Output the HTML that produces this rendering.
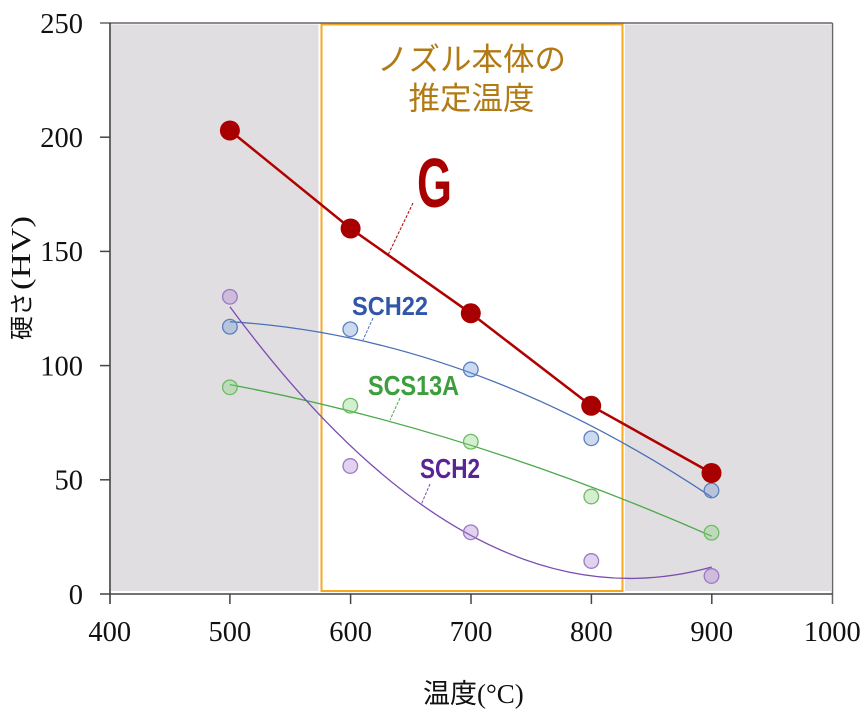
<!DOCTYPE html>
<html><head><meta charset="utf-8"><style>
html,body{margin:0;padding:0;background:#fff;}
svg{display:block;}
</style></head><body>
<svg width="866" height="716" viewBox="0 0 866 716" xmlns="http://www.w3.org/2000/svg">
<!-- gray plot background -->
<rect x="111" y="24.5" width="720" height="566.5" fill="#e0dee0"/>
<!-- white estimated temperature region -->
<rect x="318.5" y="23" width="306.5" height="569" fill="#ffffff"/>
<rect x="321.5" y="24.5" width="301" height="566.5" fill="none" stroke="#f5a820" stroke-width="2"/>
<!-- frame -->
<g stroke="#444" stroke-width="1.5" fill="none">
<line x1="100" y1="23" x2="832.5" y2="23" stroke="#666"/>
<line x1="832.5" y1="23" x2="832.5" y2="604" stroke="#666"/>
<line x1="110" y1="23" x2="110" y2="604" stroke="#333"/>
<line x1="100" y1="594" x2="832.5" y2="594"/>
<!-- y ticks -->
<line x1="100" y1="137.2" x2="110" y2="137.2"/>
<line x1="100" y1="251.4" x2="110" y2="251.4"/>
<line x1="100" y1="365.6" x2="110" y2="365.6"/>
<line x1="100" y1="479.8" x2="110" y2="479.8"/>
<!-- x ticks -->
<line x1="229.9" y1="594" x2="229.9" y2="604"/>
<line x1="350.6" y1="594" x2="350.6" y2="604"/>
<line x1="471" y1="594" x2="471" y2="604"/>
<line x1="591.4" y1="594" x2="591.4" y2="604"/>
<line x1="711.8" y1="594" x2="711.8" y2="604"/>
</g>
<!-- tick labels -->
<g font-family="'Liberation Serif', serif" font-size="28.5" fill="#111" text-anchor="end">
<text x="83" y="33">250</text>
<text x="83" y="147">200</text>
<text x="83" y="261">150</text>
<text x="83" y="375.5">100</text>
<text x="83" y="489.5">50</text>
<text x="83" y="604">0</text>
</g>
<g font-family="'Liberation Serif', serif" font-size="28.5" fill="#111" text-anchor="middle">
<text x="109.8" y="641">400</text>
<text x="229.9" y="641">500</text>
<text x="350.6" y="641">600</text>
<text x="471" y="641">700</text>
<text x="591.4" y="641">800</text>
<text x="711.8" y="641">900</text>
<text x="832.2" y="641">1000</text>
</g>
<!-- axis titles -->
<text x="423" y="703" font-family="'Liberation Serif', 'Noto Sans CJK JP', serif" font-size="27" fill="#111"><tspan font-family="'Noto Sans CJK JP', sans-serif" font-size="27">温度</tspan>(°C)</text>
<g transform="translate(30,340) rotate(-90)">
<text x="0" y="0" font-family="'Noto Sans CJK JP', sans-serif" font-size="24" fill="#111">硬さ</text>
<text x="50" y="0" font-family="'Liberation Serif', serif" font-size="27" fill="#111" textLength="74" lengthAdjust="spacingAndGlyphs">(HV)</text>
</g>
<!-- title -->
<g font-family="'Noto Sans CJK JP', sans-serif" font-size="31.5" fill="#b27a14" text-anchor="middle">
<text x="471.5" y="70">ノズル本体の</text>
<text x="471.5" y="109">推定温度</text>
</g>
<!-- fitted curves -->
<path d="M229.9,321.7 Q471,336.4 711.8,497.2" fill="none" stroke="#4a70b8" stroke-width="1.3"/>
<path d="M229.9,384.6 Q471,430.2 711.8,536.2" fill="none" stroke="#4aa84a" stroke-width="1.3"/>
<path d="M229.9,306.7 Q471,634.1 711.8,567" fill="none" stroke="#7a4cb0" stroke-width="1.3"/>
<!-- markers -->
<g stroke="#5a80c0" stroke-width="1.3" fill="rgba(110,150,210,0.35)">
<circle cx="229.9" cy="326.7" r="7.3"/>
<circle cx="350.3" cy="329.3" r="7.3"/>
<circle cx="470.8" cy="369.5" r="7.3"/>
<circle cx="591.3" cy="438.3" r="7.3"/>
<circle cx="711.5" cy="490.5" r="7.3"/>
</g>
<g stroke="#6cbc62" stroke-width="1.3" fill="rgba(130,210,120,0.35)">
<circle cx="229.9" cy="387.3" r="7.3"/>
<circle cx="350.3" cy="405.7" r="7.3"/>
<circle cx="470.8" cy="441.7" r="7.3"/>
<circle cx="591.3" cy="496.5" r="7.3"/>
<circle cx="711.5" cy="532.7" r="7.3"/>
</g>
<g stroke="#9a78c4" stroke-width="1.3" fill="rgba(170,130,210,0.35)">
<circle cx="229.9" cy="296.8" r="7.3"/>
<circle cx="350.3" cy="466" r="7.3"/>
<circle cx="470.8" cy="532.3" r="7.3"/>
<circle cx="591.3" cy="561" r="7.3"/>
<circle cx="711.5" cy="576" r="7.3"/>
</g>
<!-- G series -->
<polyline points="229.9,130.5 350.6,228.5 470.8,313.3 591.2,405.8 711.5,473" fill="none" stroke="#b00000" stroke-width="2.5"/>
<g fill="#a80000">
<circle cx="229.9" cy="130.5" r="10"/>
<circle cx="350.6" cy="228.5" r="10"/>
<circle cx="470.8" cy="313.3" r="10"/>
<circle cx="591.2" cy="405.8" r="10"/>
<circle cx="711.5" cy="473" r="10"/>
</g>
<!-- leader lines -->
<line x1="413" y1="203" x2="388" y2="255" stroke="#b00000" stroke-width="1" stroke-dasharray="3,1.5"/>
<line x1="373" y1="318" x2="363" y2="340" stroke="#4a70b8" stroke-width="1" stroke-dasharray="3,1.5"/>
<line x1="400" y1="398" x2="390" y2="420" stroke="#4aa84a" stroke-width="1" stroke-dasharray="3,1.5"/>
<line x1="430" y1="484" x2="421" y2="505" stroke="#7a4cb0" stroke-width="1" stroke-dasharray="3,1.5"/>
<!-- series labels -->
<g font-family="'Liberation Sans', sans-serif" font-weight="bold">
<text x="417" y="207" font-size="70" fill="#a80000" textLength="35" lengthAdjust="spacingAndGlyphs">G</text>
<text x="352" y="315" font-size="26" fill="#3056a8" textLength="76" lengthAdjust="spacingAndGlyphs">SCH22</text>
<text x="368" y="395" font-size="27.5" fill="#3c9e3c" textLength="91" lengthAdjust="spacingAndGlyphs">SCS13A</text>
<text x="420" y="478" font-size="27.5" fill="#5a2494" textLength="60" lengthAdjust="spacingAndGlyphs">SCH2</text>
</g>
</svg>
</body></html>
